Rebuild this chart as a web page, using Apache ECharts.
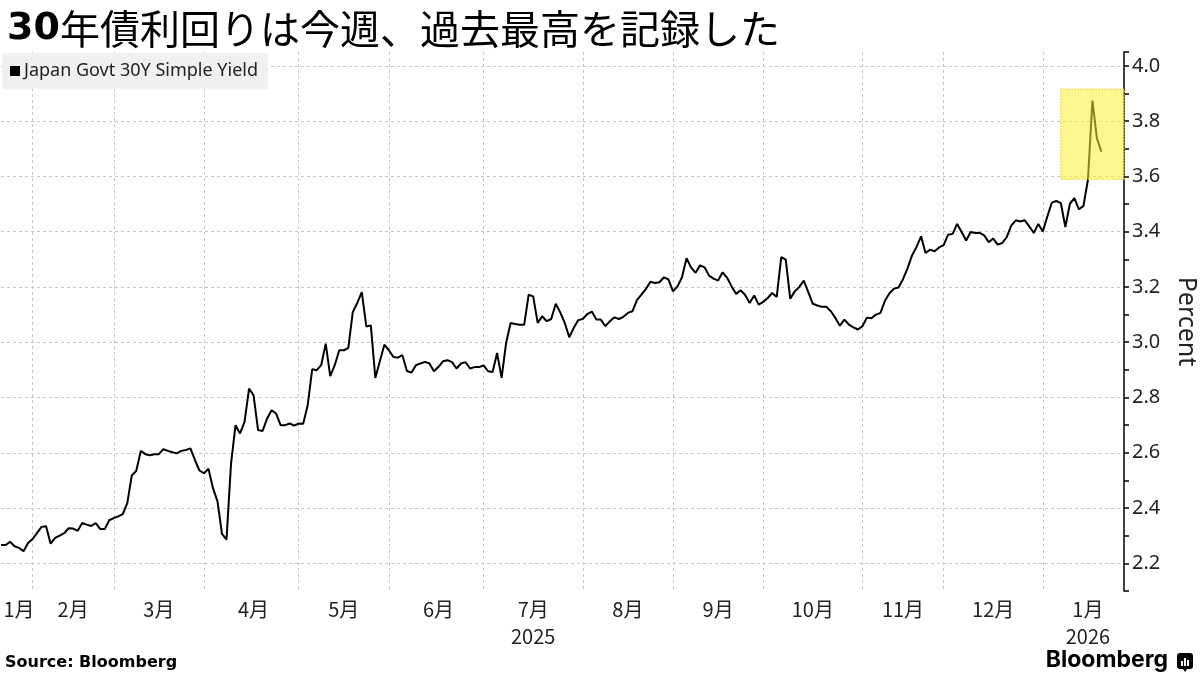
<!DOCTYPE html>
<html>
<head>
<meta charset="utf-8">
<title>30年債利回り</title>
<script src="https://cdn.jsdelivr.net/npm/echarts@6/dist/echarts.min.js"></script>
<style>
  html, body { margin: 0; padding: 0; background: #fff; }
  #chart { width: 1200px; height: 675px; }
</style>
</head>
<body>
<div id="chart"></div>
<script>
// 取引日ベース (週末・休場日を除く)
var startDate = '2025-01-23'
var holidays = [
  '2025-02-11', '2025-02-24', '2025-03-20', '2025-04-29', '2025-05-05', '2025-05-06',
  '2025-07-21', '2025-08-11', '2025-09-15', '2025-09-23', '2025-10-13', '2025-11-03',
  '2025-11-24', '2025-12-31', '2026-01-01', '2026-01-02', '2026-01-12'
]
var padDays = 5 // 最終データ以降の空白

var seriesName = 'Japan Govt 30Y Simple Yield'
var yieldData = [
  2.266, 2.266, 2.278, 2.262, 2.256, 2.244, 2.274, 2.288, 2.310, 2.332,
  2.334, 2.271, 2.292, 2.300, 2.309, 2.327, 2.326, 2.318, 2.346, 2.340,
  2.335, 2.346, 2.324, 2.324, 2.356, 2.364, 2.370, 2.378, 2.418, 2.518,
  2.535, 2.607, 2.595, 2.591, 2.595, 2.595, 2.613, 2.607, 2.602, 2.598,
  2.607, 2.610, 2.616, 2.574, 2.536, 2.526, 2.542, 2.472, 2.424, 2.307,
  2.286, 2.560, 2.700, 2.670, 2.712, 2.832, 2.808, 2.682, 2.679, 2.724,
  2.754, 2.742, 2.700, 2.700, 2.706, 2.698, 2.706, 2.705, 2.772, 2.902,
  2.899, 2.917, 2.995, 2.877, 2.917, 2.971, 2.971, 2.979, 3.109, 3.142,
  3.181, 3.057, 3.061, 2.871, 2.931, 2.991, 2.971, 2.947, 2.944, 2.953,
  2.896, 2.890, 2.917, 2.923, 2.929, 2.923, 2.895, 2.911, 2.931, 2.935,
  2.928, 2.905, 2.923, 2.928, 2.905, 2.910, 2.910, 2.916, 2.895, 2.892,
  2.961, 2.871, 2.998, 3.070, 3.066, 3.063, 3.063, 3.172, 3.166, 3.070,
  3.094, 3.076, 3.084, 3.139, 3.108, 3.070, 3.018, 3.052, 3.080, 3.084,
  3.102, 3.111, 3.082, 3.082, 3.058, 3.076, 3.090, 3.084, 3.092, 3.106,
  3.112, 3.152, 3.172, 3.193, 3.219, 3.214, 3.217, 3.235, 3.227, 3.184,
  3.202, 3.235, 3.304, 3.271, 3.251, 3.278, 3.271, 3.241, 3.230, 3.223,
  3.253, 3.233, 3.202, 3.175, 3.188, 3.171, 3.142, 3.169, 3.136, 3.146,
  3.160, 3.178, 3.164, 3.308, 3.299, 3.157, 3.184, 3.200, 3.223, 3.181,
  3.139, 3.133, 3.128, 3.128, 3.112, 3.088, 3.060, 3.082, 3.064, 3.054,
  3.046, 3.058, 3.089, 3.087, 3.100, 3.106, 3.150, 3.177, 3.194, 3.198,
  3.228, 3.267, 3.314, 3.345, 3.383, 3.323, 3.335, 3.329, 3.343, 3.351,
  3.389, 3.392, 3.428, 3.399, 3.368, 3.399, 3.395, 3.396, 3.387, 3.362,
  3.375, 3.353, 3.359, 3.380, 3.422, 3.441, 3.437, 3.441, 3.419, 3.395,
  3.428, 3.401, 3.455, 3.505, 3.511, 3.503, 3.417, 3.501, 3.521, 3.481,
  3.493, 3.587, 3.874, 3.737, 3.689
]
// 黄色の強調枠 (開始取引日インデックス, 利回り範囲)
var boxFrom = 235
var boxYield = [3.59, 3.915]

function tradingDays(start, n) {
  var out = []
  var d = new Date(start + 'T00:00:00Z')
  while (out.length < n) {
    var s = d.toISOString().slice(0, 10)
    var wd = d.getUTCDay()
    if (wd !== 0 && wd !== 6 && holidays.indexOf(s) < 0) out.push(s)
    d.setUTCDate(d.getUTCDate() + 1)
  }
  return out
}
var dates = tradingDays(startDate, yieldData.length + padDays)

// 月ごとのラベル位置 (月の中央) と区切り線 (月初)
var months = {}
dates.forEach(function(s, i) {
  var k = s.slice(0, 7)
  ;(months[k] = months[k] || []).push(i)
})
var labelAt = {}
var lineAt = {}
var yearMonths = {}
var monthKeys = Object.keys(months)
monthKeys.forEach(function(k, j) {
  var first = months[k][0]
  var next = j < monthKeys.length - 1 ? months[monthKeys[j + 1]][0] : dates.length
  labelAt[Math.round((first + next) / 2)] = true
  if (j > 0) lineAt[first] = true
  var y = k.slice(0, 4)
  ;(yearMonths[y] = yearMonths[y] || []).push(k)
})
var yearLabel = {}
Object.keys(yearMonths).forEach(function(y) {
  var ms = yearMonths[y]
  yearLabel[ms[Math.floor(ms.length / 2)]] = y
})

var cjk = '"Noto Sans CJK JP", "Noto Sans", sans-serif'
var chart = echarts.init(document.getElementById('chart'))
chart.setOption({
  animation: false,
  backgroundColor: '#fff',
  title: {
    left: 2,
    top: 0,
    text: '{b|30}{r|年債利回りは今週、過去最高を記録した}',
    textStyle: {
      rich: {
        b: { fontFamily: '"DejaVu Sans"', fontWeight: 'bold', fontSize: 38, color: '#000', lineHeight: 48 },
        r: { fontFamily: cjk, fontWeight: 'normal', fontSize: 40, color: '#000', lineHeight: 48 }
      }
    }
  },
  legend: {
    data: [seriesName],
    left: 2,
    top: 53,
    padding: [9, 10, 9, 8],
    backgroundColor: '#f0f0f0',
    borderRadius: 2,
    icon: 'rect',
    itemWidth: 10,
    itemHeight: 10,
    itemGap: 5,
    selectedMode: false,
    textStyle: { fontFamily: '"Noto Sans"', fontSize: 18, color: '#222', padding: [0, 0, 0, -1] }
  },
  grid: {
    left: 1,
    right: 76,
    top: 52,
    bottom: 84,
    outerBoundsMode: 'none'
  },
  xAxis: {
    type: 'category',
    data: dates,
    boundaryGap: false,
    axisLine: { show: false },
    axisTick: { show: false },
    axisLabel: {
      interval: function(i) { return !!labelAt[i] },
      formatter: function(v) {
        var m = parseInt(v.slice(5, 7), 10) + '月'
        var y = yearLabel[v.slice(0, 7)]
        return y ? m + '\n' + y : m
      },
      fontFamily: cjk,
      fontSize: 20,
      color: '#222',
      margin: 5,
      lineHeight: 27
    },
    splitLine: {
      show: true,
      interval: function(i) { return !!lineAt[i] },
      lineStyle: { color: '#c8c8c8', type: [3, 3], width: 1 }
    }
  },
  yAxis: {
    type: 'value',
    position: 'right',
    min: 2.1,
    max: 4.05,
    interval: 0.1,
    name: 'Percent',
    nameLocation: 'middle',
    nameRotate: -90,
    nameGap: 50,
    nameTextStyle: { fontFamily: '"Noto Sans"', fontSize: 25, color: '#222' },
    axisLine: { show: true, lineStyle: { color: '#000', width: 1.5 } },
    axisTick: { show: true, length: 5, inside: false, lineStyle: { color: '#000', width: 1.5 } },
    axisLabel: {
      formatter: function(v) {
        var t = Math.round(v * 10)
        return (t % 2 === 0 && v < 4.01) ? v.toFixed(1) : ''
      },
      fontFamily: '"Noto Sans"',
      fontSize: 20,
      color: '#222',
      margin: 8
    },
    splitLine: {
      show: true,
      lineStyle: { color: ['rgba(0,0,0,0)', '#c8c8c8'], type: [3, 3], width: 1 }
    }
  },
  series: [
    {
      name: seriesName,
      type: 'line',
      data: yieldData,
      showSymbol: false,
      symbol: 'none',
      lineStyle: { color: '#000', width: 2 },
      itemStyle: { color: '#000' },
      z: 2
    },
    {
      name: 'highlight',
      type: 'line',
      data: [],
      z: 10,
      silent: true,
      markArea: {
        silent: true,
        z: 10,
        itemStyle: {
          color: 'rgba(255, 238, 50, 0.55)',
          borderColor: 'rgba(240, 215, 40, 0.8)',
          borderType: 'dotted',
          borderWidth: 1.5
        },
        data: [[
          { xAxis: dates[boxFrom], yAxis: boxYield[0] },
          { xAxis: dates[dates.length - 1], yAxis: boxYield[1] }
        ]]
      }
    }
  ],
  graphic: [
    {
      type: 'text',
      left: 5,
      top: 655,
      style: { text: 'Source: Bloomberg', font: 'bold 16px "DejaVu Sans"', fill: '#000' }
    },
    {
      type: 'text',
      right: 32,
      top: 649,
      style: { text: 'Bloomberg', font: 'bold 23px "Inter"', fill: '#000' }
    },
    {
      type: 'group',
      right: 7,
      top: 653,
      children: [
        { type: 'rect', shape: { x: 0, y: 0, width: 16, height: 16, r: 3 }, style: { fill: '#000' } },
        { type: 'polygon', shape: { points: [[6, 16], [10, 16], [8, 19]] }, style: { fill: '#000' } },
        { type: 'rect', shape: { x: 4, y: 8, width: 2, height: 5 }, style: { fill: '#fff' } },
        { type: 'rect', shape: { x: 7, y: 5, width: 2, height: 8 }, style: { fill: '#fff' } },
        { type: 'rect', shape: { x: 10, y: 7, width: 2, height: 6 }, style: { fill: '#fff' } }
      ]
    }
  ]
})
</script>
</body>
</html>
